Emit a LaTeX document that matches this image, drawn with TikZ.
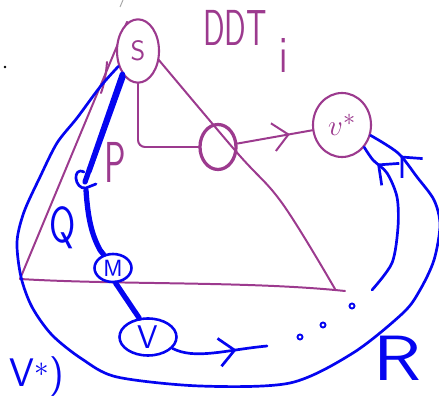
\documentclass[tikz,border=0pt]{standalone}
\usepackage{graphicx}
\usepackage{tikz}
\usetikzlibrary{positioning,arrows.meta,shapes.geometric,decorations.markings}
\definecolor{ink}{HTML}{9C3A8E}
\definecolor{pen}{HTML}{0505F0}

\begin{document}
\begin{tikzpicture}[
      x=0.03cm, y=-0.03cm,
      font=\sffamily,
      tri/.style={draw=ink, line width=1.7pt, line cap=round, line join=round},
      pnode/.style={ellipse, draw=ink, line width=1.8pt, inner sep=0pt, text=ink},
      bnode/.style={ellipse, draw=pen, line width=2.2pt, inner sep=0pt, text=pen},
      bline/.style={draw=pen, line width=2.3pt, line cap=round, line join=round},
      scrib/.style={draw=pen, line width=4.5pt, line cap=round},
      midbarb/.style={postaction={decorate, decoration={markings,
        mark=at position #1 with {\arrow{Straight Barb[length=13pt, width=24pt]}}}}},
    ]
    \useasboundingbox (0,0) rectangle (439,398);

    % triangle
    \draw[tri] (127,22) -- (20,279) .. controls (120,285) and (250,281) .. (345,291);
    \draw[tri] plot[smooth, tension=0.6] coordinates {(127,22) (233,148) (282,203) (335,289)};
    \draw[tri] (107,62) .. controls (106,75) and (104,85) .. (101,93);

    % nodes
    \node[pnode, fill=white, minimum width=1.26cm, minimum height=1.9cm,
      font=\sffamily\fontsize{24}{24}\selectfont] (S) at (138,51) {S};
    \node[pnode, line width=2.8pt, minimum width=1.08cm, minimum height=1.35cm] (hub) at (218,147) {};
    \node[pnode, minimum width=1.74cm, minimum height=1.92cm,
      font=\fontsize{28}{28}\selectfont] (vstar) at (342,125) {$v^{*}$};
    \node[bnode, minimum width=1.11cm, minimum height=0.84cm,
      font=\sffamily\fontsize{20}{20}\selectfont] (M) at (113,268) {M};
    \node[bnode, minimum width=1.71cm, minimum height=1.11cm,
      font=\sffamily\fontsize{28}{28}\selectfont] (V) at (148,337) {V};
    \coordinate (vout) at (267,346);

    % purple links
    \draw[tri, rounded corners=6pt] (S.south) |- (hub.west);
    \draw[tri, midbarb=0.7] (hub) -- (vstar);

    % blue path S to V
    \draw[scrib] (S.236) -- (85,182);
    \draw[scrib, line width=2.5pt] (S.242) -- (90,172);
    \draw[bline] (84,172) .. controls (72,166) and (74,190) .. (86,188) -- (96,184);
    \draw[scrib] (86,190) .. controls (88,220) and (92,235) .. (100,250) -- (M.125);
    \draw[scrib] (M.-80) -- (V.115);
    \draw[bline, midbarb=0.68] (V.-25) .. controls (195,360) and (225,350) .. (vout);
    \foreach \p in {(300,337),(323,325),(352,306)}
      \draw[pen, line width=1.6pt] \p circle[radius=2.5];

    % loops back to v*
    \draw[bline, midbarb=0.96] plot[smooth] coordinates {(S.218) (100,87) (77,118) (57,143)
      (40,177) (24,212) (17,242) (21,277) (32,307) (52,335) (82,359) (117,377) (200,386)
      (290,383) (353,353) (403,313) (420,290) (434,260) (440,225) (434,200) (417,177)
      (398,153) (vstar.-20)};
    \draw[bline, midbarb=0.87] plot[smooth] coordinates {(372,290) (392,263) (398,227)
      (397,197) (387,173) (373,160) (vstar.-45)};

    % labels
    \node[text=ink, font=\sffamily\fontsize{32}{32}\selectfont] (ddt) at (235,28) {\scalebox{0.85}[1.35]{DDT}};
    \node[text=ink, font=\sffamily\fontsize{32}{32}\selectfont] (idx) at (284,55) {\scalebox{1}[1.4]{i}};
    \node[text=ink, font=\sffamily\fontsize{34}{34}\selectfont] (plab) at (115,162) {\scalebox{0.9}[1.45]{P}};
    \node[text=pen, font=\sffamily\fontsize{36}{36}\selectfont] (qlab) at (63,228) {\scalebox{0.9}[1.2]{Q}};
    \node[text=pen, inner sep=0pt, font=\sffamily\fontsize{52}{52}\selectfont] (rlab) at (397,358) {\scalebox{1.3}[1.05]{R}};
    \node[text=pen, anchor=base east, inner sep=0pt,
      font=\sffamily\fontsize{34}{34}\selectfont] (pv) at (64,387) {V$^{*}$)};

    % stray marks
    \fill (5,67) circle[radius=1.3];
    \draw[gray!70, line width=0.8pt] (123,0) -- (120,7);
  \end{tikzpicture}
\end{document}
